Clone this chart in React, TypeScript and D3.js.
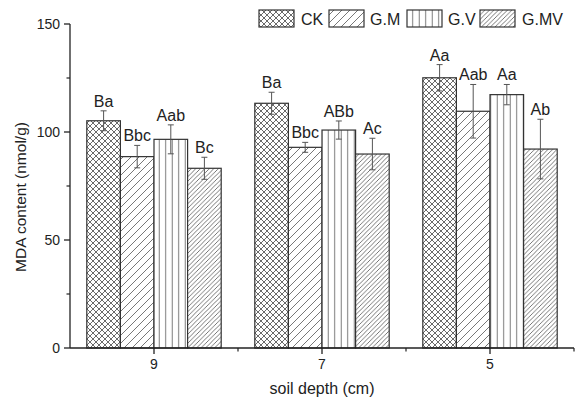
import React from "react";
import * as d3 from "d3";

const categories = ["9", "7", "5"];
const series = ["CK", "G.M", "G.V", "G.MV"];
const values = [
  [105.2, 88.6, 96.6, 83.2],
  [113.3, 92.9, 100.9, 89.8],
  [125.1, 109.6, 117.3, 92.1],
];
const errors = [
  [4.6, 5.2, 6.7, 5.1],
  [5.1, 2.3, 4.2, 7.3],
  [6.1, 12.4, 4.7, 13.8],
];
const letters = [
  ["Ba", "Bbc", "Aab", "Bc"],
  ["Ba", "Bbc", "ABb", "Ac"],
  ["Aa", "Aab", "Aa", "Ab"],
];
const yTicks = [0, 50, 100, 150];
const yMinor = [25, 75, 125];

const W = 575;
const H = 403;
const x0 = 70;
const x1 = 574;
const yBottom = 348;
const yTop = 24;
const font = "Liberation Sans, Arial, sans-serif";
const patternIds = ["pCK", "pGM", "pGV", "pGMV"];

export default function App() {
  const x = d3.scaleBand<string>().domain(categories).range([x0, x1]).paddingInner(0.2).paddingOuter(0.1);
  const xInner = d3.scaleBand<string>().domain(series).range([0, x.bandwidth()]);
  const y = d3.scaleLinear().domain([0, 150]).range([yBottom, yTop]);
  const step = (x1 - x0) / categories.length;
  const boundaries = d3.range(categories.length + 1).map((i) => x0 + i * step);
  const center = (c: string) => x0 + (categories.indexOf(c) + 0.5) * step;
  const barLeft = (c: string, s: string) => center(c) - x.bandwidth() / 2 + (xInner(s) as number);
  const bw = xInner.bandwidth();

  const legendX = [259, 329, 407, 480];
  const legendTextX = [301, 370, 448, 522];

  return (
    <svg width={W} height={H} style={{ position: "absolute", left: 0, top: 0, background: "#fff" }}>
      <defs>
        <pattern id="pCK" patternUnits="userSpaceOnUse" width="6" height="6">
          <rect width="6" height="6" fill="#fff" />
          <path d="M0,0 L6,6 M6,0 L0,6 M-1,5 L1,7 M5,-1 L7,1 M-1,1 L1,-1 M5,7 L7,5" stroke="#444" strokeWidth="0.8" />
        </pattern>
        <pattern id="pGM" patternUnits="userSpaceOnUse" width="8" height="8">
          <rect width="8" height="8" fill="#fff" />
          <path d="M0,8 L8,0 M-2,2 L2,-2 M6,10 L10,6" stroke="#555" strokeWidth="0.8" />
        </pattern>
        <pattern id="pGV" patternUnits="userSpaceOnUse" width="6.5" height="6">
          <rect width="6.5" height="6" fill="#fff" />
          <path d="M3.2,0 L3.2,6" stroke="#666" strokeWidth="0.9" />
        </pattern>
        <pattern id="pGMV" patternUnits="userSpaceOnUse" width="4.5" height="4.5">
          <rect width="4.5" height="4.5" fill="#fff" />
          <path d="M0,4.5 L4.5,0 M-1,1 L1,-1 M3.5,5.5 L5.5,3.5" stroke="#555" strokeWidth="0.8" />
        </pattern>
      </defs>

      {/* bars */}
      {categories.map((c, ci) =>
        series.map((s, si) => {
          const left = barLeft(c, s);
          const top = y(values[ci][si]);
          return (
            <rect
              key={`b-${ci}-${si}`}
              x={left}
              y={top}
              width={bw}
              height={yBottom - top}
              fill={`url(#${patternIds[si]})`}
              stroke="#333"
              strokeWidth={1.2}
            />
          );
        })
      )}

      {/* error bars */}
      {categories.map((c, ci) =>
        series.map((s, si) => {
          const cx = barLeft(c, s) + bw / 2;
          const v = values[ci][si];
          const e = errors[ci][si];
          const yt = y(v + e);
          const yb = y(v - e);
          return (
            <g key={`e-${ci}-${si}`} stroke="#555" strokeWidth={1}>
              <line x1={cx} x2={cx} y1={yt} y2={yb} />
              <line x1={cx - 3} x2={cx + 3} y1={yt} y2={yt} />
              <line x1={cx - 3} x2={cx + 3} y1={yb} y2={yb} />
            </g>
          );
        })
      )}

      {/* letters */}
      {categories.map((c, ci) =>
        series.map((s, si) => {
          const cx = barLeft(c, s) + bw / 2;
          const v = values[ci][si];
          const e = errors[ci][si];
          return (
            <text
              key={`l-${ci}-${si}`}
              x={cx}
              y={y(v + e) - 4}
              textAnchor="middle"
              fontFamily={font}
              fontSize={16}
              fill="#222"
            >
              {letters[ci][si]}
            </text>
          );
        })
      )}

      {/* y axis */}
      <line x1={x0} x2={x0} y1={yTop} y2={yBottom} stroke="#222" strokeWidth={1.3} />
      {yTicks.map((t) => (
        <g key={`yt-${t}`}>
          <line x1={x0 - 6} x2={x0} y1={y(t)} y2={y(t)} stroke="#222" strokeWidth={1.3} />
          <text x={x0 - 10} y={y(t) + 5} textAnchor="end" fontFamily={font} fontSize={14} fill="#222">
            {t}
          </text>
        </g>
      ))}
      {yMinor.map((t) => (
        <line key={`ym-${t}`} x1={x0 - 3.5} x2={x0} y1={y(t)} y2={y(t)} stroke="#222" strokeWidth={1.2} />
      ))}

      {/* x axis */}
      <line x1={x0} x2={x1} y1={yBottom} y2={yBottom} stroke="#222" strokeWidth={1.3} />
      {categories.map((c) => (
        <g key={`xt-${c}`}>
          <line x1={center(c)} x2={center(c)} y1={yBottom} y2={yBottom + 6} stroke="#222" strokeWidth={1.3} />
          <text x={center(c)} y={yBottom + 21} textAnchor="middle" fontFamily={font} fontSize={14} fill="#222">
            {c}
          </text>
        </g>
      ))}
      {boundaries.slice(1).map((b, i) => (
        <line key={`xm-${i}`} x1={b} x2={b} y1={yBottom} y2={yBottom + 3.5} stroke="#222" strokeWidth={1.2} />
      ))}

      {/* axis titles */}
      <text x={(x0 + x1) / 2} y={394} textAnchor="middle" fontFamily={font} fontSize={16} fill="#222">
        soil depth (cm)
      </text>
      <text
        transform={`translate(26,197) rotate(-90)`}
        textAnchor="middle"
        fontFamily={font}
        fontSize={15.5}
        fill="#222"
      >
        MDA content (nmol/g)
      </text>

      {/* legend */}
      {series.map((s, si) => (
        <g key={`lg-${si}`}>
          <rect x={legendX[si]} y={10} width={35} height={17} fill={`url(#${patternIds[si]})`} stroke="#333" strokeWidth={1.2} />
          <text x={legendTextX[si]} y={24.5} fontFamily={font} fontSize={16} fill="#222">
            {s}
          </text>
        </g>
      ))}
    </svg>
  );
}
